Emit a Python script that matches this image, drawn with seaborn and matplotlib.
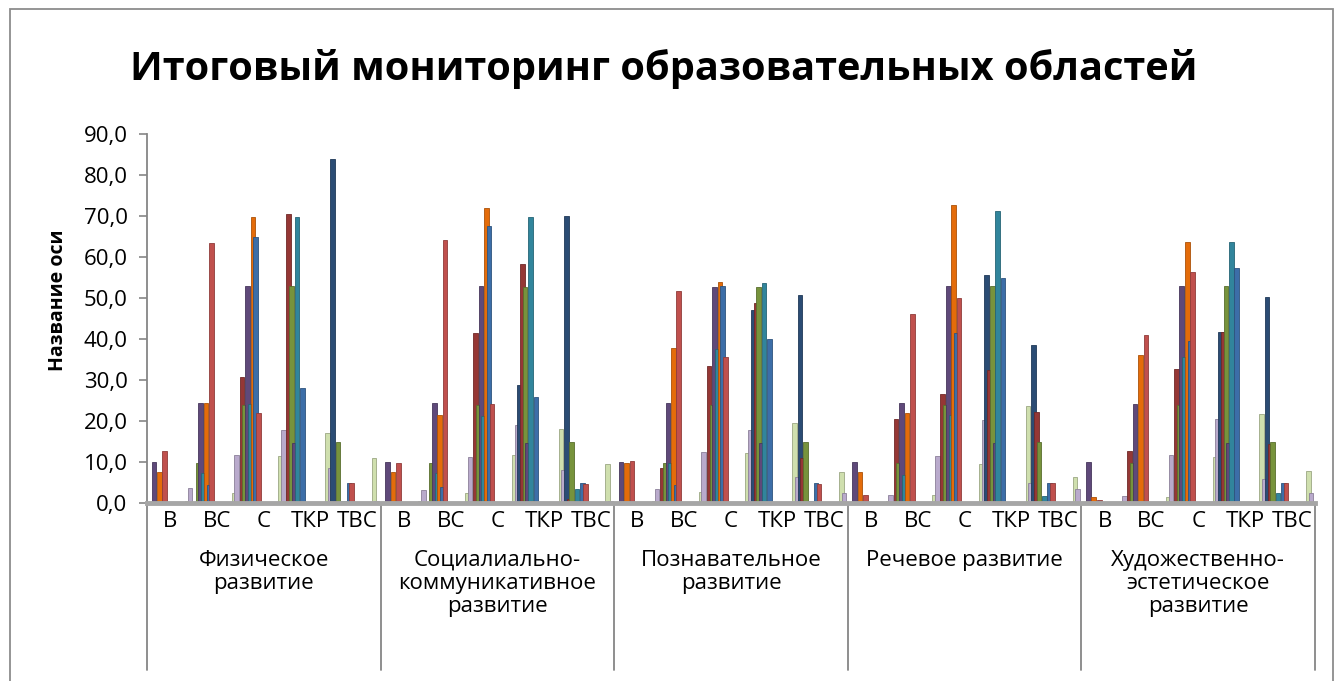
import numpy as np
import pandas as pd
import matplotlib
matplotlib.use("Agg")
import matplotlib.pyplot as plt
import matplotlib.colors as mcolors
import seaborn as sns
from matplotlib.patches import Rectangle

sns.set_theme(style="white")
plt.rcParams['font.family'] = ['Open Sans', 'DejaVu Sans']

# categories: 5 areas x 5 levels (+ one unlabeled trailing category, cut by the axis)
areas = ["Физическое\nразвитие",
         "Социалиально-\nкоммуникативное\nразвитие",
         "Познавательное\nразвитие",
         "Речевое развитие",
         "Художественно-\nэстетическое\nразвитие"]
levels = ["В", "ВС", "С", "ТКР", "ТВС"]

series_names = ["Ряд1", "Ряд2", "Ряд3", "Ряд4", "Ряд5",
                "Ряд6", "Ряд7", "Ряд8", "Ряд9", "Ряд10"]
series_colors = ["#cfdfae", "#b9aacc", "#2b4c74", "#953735", "#77933c",
                 "#5f497a", "#31859c", "#e46c0a", "#3c6ea8", "#c0504d"]

# values per series, 26 categories each
s1 = [0.5, 0.5, 2.5, 11.5, 17.0, 10.9, 0.5, 2.4, 11.7, 18.0, 9.5, 0.5, 2.8, 12.1, 19.6,
      7.5, 0.5, 2.0, 9.5, 23.7, 6.3, 0.3, 1.4, 11.1, 21.7, 7.7]
s2 = [0.5, 3.6, 11.7, 17.8, 8.5, 0.5, 3.2, 11.3, 19.0, 8.0, 0.5, 3.3, 12.5, 17.8, 6.4,
      2.4, 2.0, 11.5, 20.2, 4.8, 3.3, 1.7, 11.7, 20.6, 5.8, 2.4]
s3 = [0, 0, 0, 0, 83.8, 0, 0, 0, 28.8, 70.0, 0, 0, 0, 47.1, 50.7,
      0, 0, 0, 55.6, 38.5, 0, 0, 0, 41.6, 50.2, 0]
s4 = [0, 0, 30.7, 70.6, 0.5, 0, 0, 41.4, 58.3, 1.0, 0, 8.5, 33.3, 48.7, 10.9,
      0, 20.4, 26.6, 32.4, 22.1, 0, 12.8, 32.8, 41.7, 14.4, 0]
s5 = [0, 9.8, 23.9, 52.9, 15.0, 0, 9.8, 24.0, 52.8, 15.0, 0, 9.8, 23.9, 52.8, 15.0,
      0, 9.8, 23.9, 53.0, 15.0, 0, 9.8, 23.9, 52.9, 15.0, 0]
s6 = [10.1, 24.3, 53.0, 14.6, 0, 10.1, 24.4, 53.0, 14.6, 0, 10.1, 24.3, 52.8, 14.6, 0,
      10.1, 24.4, 53.0, 14.6, 0, 10.1, 24.1, 53.0, 14.6, 0, 0]
s7 = [0, 7.2, 24.2, 69.7, 0.5, 0, 7.2, 21.2, 69.7, 3.3, 0, 9.8, 37.5, 53.6, 0.5,
      0, 6.8, 21.5, 71.3, 1.7, 0, 0, 35.7, 63.6, 2.5, 0]
s8 = [7.6, 24.5, 69.7, 0, 0, 7.6, 21.5, 71.9, 0.5, 0, 9.7, 37.7, 54.0, 0, 0,
      7.5, 21.9, 72.7, 0.5, 0, 1.4, 36.1, 63.6, 0, 0, 0]
s9 = [0, 4.4, 64.8, 28.0, 5.0, 0, 4.0, 67.6, 25.8, 5.0, 0, 4.4, 52.9, 39.9, 4.9,
      0, 0, 41.5, 55.0, 5.0, 0, 0, 39.5, 57.2, 5.0, 0]
s10 = [12.8, 63.5, 21.9, 0, 4.8, 9.8, 64.1, 24.2, 0, 4.7, 10.3, 51.8, 35.7, 0, 4.7,
       2.0, 46.1, 50.1, 0, 4.8, 0.8, 41.0, 56.4, 0, 4.8, 0]
all_series = [s1, s2, s3, s4, s5, s6, s7, s8, s9, s10]

cat_keys = [f"{a}|{lv}" for a in range(len(areas)) for lv in levels] + ["extra"]
rows = []
for name, vals in zip(series_names, all_series):
    for key, v in zip(cat_keys, vals):
        rows.append((key, name, v))
df = pd.DataFrame(rows, columns=["cat", "series", "value"])

W, H = 1343, 681
fig = plt.figure(figsize=(W / 100, H / 100), dpi=100)
ax = fig.add_axes([147 / W, 1 - 503 / H, 1168 / W, 369 / H])

sns.barplot(data=df, x="cat", y="value", hue="series", order=cat_keys,
            hue_order=series_names, palette=series_colors, saturation=1,
            width=0.58, dodge=True, errorbar=None, legend=False,
            linewidth=0, ax=ax)

# Excel 3D columns are wider than their slot and overlap; also give them a darker rim
for p in ax.patches:
    w = p.get_width()
    cx = p.get_x() + w / 2
    p.set_width(w * 1.7)
    p.set_x(cx - w * 0.85)
    fc = np.array(mcolors.to_rgb(p.get_facecolor()))
    p.set_edgecolor(fc * 0.75)
    p.set_linewidth(0.6)

n_cat = len(areas) * len(levels)
ax.set_xlim(-0.12, n_cat - 0.12)
ax.set_ylim(0, 90)
ax.set_yticks(np.arange(0, 91, 10))
ax.set_yticklabels([f"{v:.1f}".replace(".", ",") for v in np.arange(0, 91, 10)],
                   fontsize=16, color="black")
ax.tick_params(axis="y", direction="out", length=6, width=1.2, color="#868686", pad=8, left=True)
ax.set_xticks(np.arange(n_cat) + 0.38)
ax.set_xticklabels(levels * len(areas), fontsize=16, color="black")
ax.tick_params(axis="x", length=0, pad=6)
ax.set_xlabel("")
ax.set_ylabel("Название оси", fontsize=14, fontweight="bold", color="black")
ax.yaxis.set_label_coords(-0.068, 0.55)

for side in ["top", "right"]:
    ax.spines[side].set_visible(False)
ax.spines["left"].set_color("#868686")
ax.spines["left"].set_linewidth(1.3)
ax.spines["bottom"].set_color("#a6a6a6")
ax.spines["bottom"].set_linewidth(3.5)

# group separators and area labels under the axis
low = -(670 - 503) / 369
trans = ax.get_xaxis_transform()
for g in range(len(areas) + 1):
    xs = g * len(levels) - 0.12
    ax.plot([xs, xs], [0, low], transform=trans, clip_on=False,
            color="#868686", lw=1.3)
for g, name in enumerate(areas):
    xc = g * len(levels) + len(levels) / 2 - 0.12
    ax.text(xc, -(550 - 503) / 369, name, transform=trans, ha="center", va="top",
            fontsize=16, linespacing=1.12, color="black")

fig.text(664 / W, 1 - 69 / H, "Итоговый мониторинг образовательных областей",
         ha="center", va="center", fontsize=28.6, fontweight="bold", color="black")

fig.patches.append(Rectangle((10 / W, -0.1), (1333 - 10) / W, 1.1 - 9 / H,
                             transform=fig.transFigure, fill=False,
                             edgecolor="#8c8c8c", lw=1.3))

fig.savefig("out.png", dpi=100)
